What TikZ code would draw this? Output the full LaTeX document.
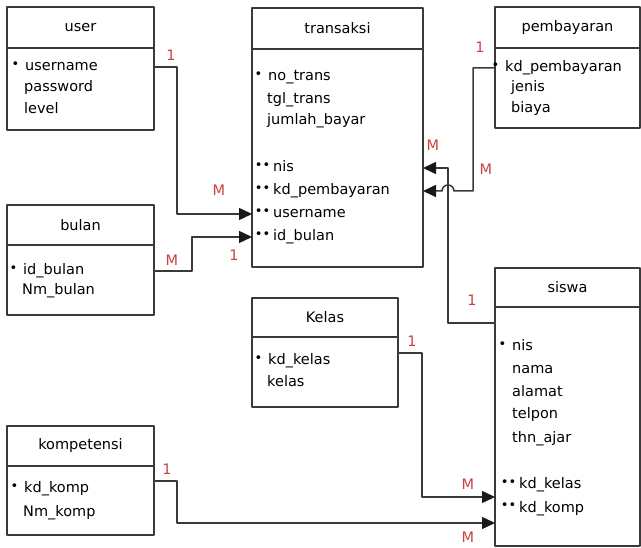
\documentclass[tikz,border=0pt]{standalone}
\usepackage{fontspec}
\setmainfont{DejaVu Sans}
\usetikzlibrary{arrows.meta,calc}
\definecolor{garis}{RGB}{58,58,58}
\definecolor{kardinal}{RGB}{200,66,66}
\newcommand{\pk}{\llap{\raisebox{2.5pt}{\fontsize{13}{13}\selectfont •}\hspace{6pt}}}
\newcommand{\fk}{\llap{\raisebox{2.5pt}{\fontsize{13}{13}\selectfont ••}\hspace{3pt}}}
\tikzset{
judul/.style={draw=garis,line width=1.6pt,anchor=north west,inner sep=0pt,outer sep=0pt},
isi/.style={draw=garis,line width=1.6pt,anchor=north,inner sep=0pt,outer sep=0pt},
atr/.style={anchor=west,inner sep=0pt,text height=11pt,text depth=3pt},
kard/.style={text=kardinal,inner sep=0pt},
relasi/.style={draw=garis,line width=1.5pt,->}
}
\begin{document}
\begin{tikzpicture}[x=1pt,y=-1pt,line join=round,>={Triangle[length=13pt,width=12pt,color=black!90]},font=\fontsize{14.5}{17}\selectfont]
\useasboundingbox (0,0) rectangle (641,548);
\node[judul,minimum width=147pt,minimum height=41pt] (user) at (7,7) {user};
\node[isi,minimum width=147pt,minimum height=82pt] (user-b) at (user.south) {};
\node[judul,minimum width=171pt,minimum height=41pt] (trans) at (252,8) {transaksi};
\node[isi,minimum width=171pt,minimum height=218pt] (trans-b) at (trans.south) {};
\node[judul,minimum width=145pt,minimum height=41pt] (pemb) at (495,7) {pembayaran};
\node[isi,minimum width=145pt,minimum height=80pt] (pemb-b) at (pemb.south) {};
\node[judul,minimum width=147pt,minimum height=40pt] (bulan) at (7,205) {bulan};
\node[isi,minimum width=147pt,minimum height=70pt] (bulan-b) at (bulan.south) {};
\node[judul,minimum width=146pt,minimum height=39pt] (kelas) at (252,298) {Kelas};
\node[isi,minimum width=146pt,minimum height=70pt] (kelas-b) at (kelas.south) {};
\node[judul,minimum width=145pt,minimum height=39pt] (siswa) at (495,268) {siswa};
\node[isi,minimum width=145pt,minimum height=239pt] (siswa-b) at (siswa.south) {};
\node[judul,minimum width=147pt,minimum height=40pt] (komp) at (7,426) {kompetensi};
\node[isi,minimum width=147pt,minimum height=69pt] (komp-b) at (komp.south) {};
\foreach \n/\t/\x/\y in {uname/\pk username/25/67,pass/password/24/88,level/level/24/110}
  \node[atr] (u-\n) at (\x,\y) {\t};
\foreach \n/\t/\x/\y in {notrans/\pk no\_trans/268/77,tgl/tgl\_trans/267/100,jumlah/jumlah\_bayar/267/121,nis/\fk nis/273/168,kdpemb/\fk kd\_pembayaran/273/191,uname/\fk username/273/214,idbulan/\fk id\_bulan/273/237}
  \node[atr] (t-\n) at (\x,\y) {\t};
\foreach \n/\t/\x/\y in {kdpemb/\pk kd\_pembayaran/505/68,jenis/jenis/511/88,biaya/biaya/511/109}
  \node[atr] (p-\n) at (\x,\y) {\t};
\foreach \n/\t/\x/\y in {idbulan/\pk id\_bulan/23/271,nmbulan/Nm\_bulan/22/291}
  \node[atr] (b-\n) at (\x,\y) {\t};
\foreach \n/\t/\x/\y in {kdkelas/\pk kd\_kelas/268/361,kelas/kelas/267/383}
  \node[atr] (k-\n) at (\x,\y) {\t};
\foreach \n/\t/\x/\y in {nis/\pk nis/512/347,nama/nama/512/370,alamat/alamat/512/393,telpon/telpon/512/415,thn/thn\_ajar/512/439,kdkelas/\fk kd\_kelas/519/485,kdkomp/\fk kd\_komp/519/508}
  \node[atr] (s-\n) at (\x,\y) {\t};
\foreach \n/\t/\x/\y in {kdkomp/\pk kd\_komp/24/489,nmkomp/Nm\_komp/23/513}
  \node[atr] (c-\n) at (\x,\y) {\t};
\draw[relasi] (user-b.east |- u-uname) -- ++(23,0) |- (t-uname -| trans-b.west);
\draw[relasi] (bulan-b.east |- b-idbulan) -- ++(38,0) |- (t-idbulan -| trans-b.west);
\draw[relasi] (pemb-b.west |- p-kdpemb) -- ++(-22,0) |- ($(t-kdpemb -| trans-b.east)+(31,0)$) arc[start angle=0,end angle=180,radius=6pt] -- (t-kdpemb -| trans-b.east);
\draw[relasi] ($(siswa-b.north west)+(0,16)$) -- ++(-47,0) |- (t-nis -| trans-b.east);
\draw[relasi] ($(kelas-b.east |- k-kdkelas)+(0,-8)$) -- ++(24,0) |- ($(s-kdkelas -| siswa-b.west)+(0,12)$);
\draw[relasi] ($(komp-b.east |- c-kdkomp)+(0,-8)$) -- ++(23,0) |- ($(s-kdkomp -| siswa-b.west)+(0,15)$);
\foreach \n/\t/\x/\y in {a/1/171/55,b/M/219/190,c/M/172/260,d/1/234/255,e/1/480/47,f/M/486/169,g/M/433/145,h/1/472/300,i/1/412/341,j/M/468/484,k/1/167/469,l/M/468/537}
  \node[kard] (l-\n) at (\x,\y) {\t};
\end{tikzpicture}
\end{document}
